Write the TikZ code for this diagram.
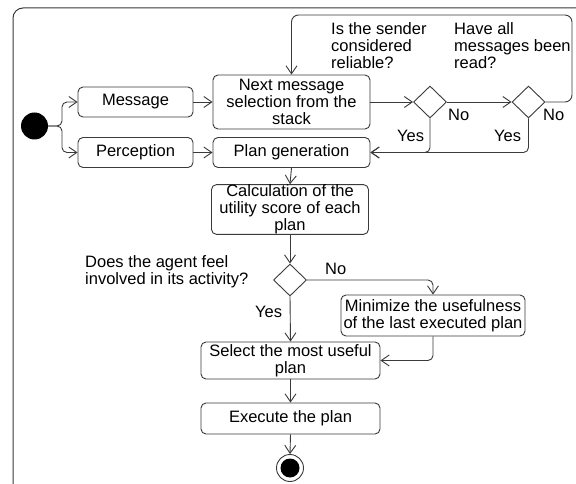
\documentclass[tikz,border=0pt]{standalone}
\usepackage{fontspec}
\setmainfont{Liberation Sans}
\usetikzlibrary{arrows.meta,shapes.geometric}
\definecolor{lc}{HTML}{3A3A3A}
\newcommand{\fs}{\fontsize{16.5}{17.2}\selectfont}
\begin{document}
\begin{tikzpicture}[x=1pt,y=-1pt,
  box/.style={draw=lc, rounded corners=5pt, line width=0.9pt, align=center, inner sep=0pt, font=\fs},
  dec/.style={draw=lc, diamond, minimum width=33pt, minimum height=32pt, inner sep=0pt, line width=0.9pt},
  arr/.style={draw=lc, line width=0.9pt, rounded corners=5pt, -{Straight Barb[length=8pt,width=11pt]}},
  lbl/.style={anchor=base west, inner sep=0pt, font=\fs, align=left},
  mlbl/.style={anchor=north west, inner sep=0pt, font=\fs, align=left}
]
\useasboundingbox (0,0) rectangle (576,484);
\fill[white] (0,0) rectangle (576,484);
% frame
\draw[lc, line width=1pt, rounded corners=10pt] (13,484) -- (13,8) -- (576,8);

% nodes
\node[circle, fill=black, minimum size=27pt, inner sep=0pt] (start) at (34.5,126) {};
\node[box, minimum width=115pt, minimum height=30pt] (msg) at (135.5,102) {Message};
\node[box, minimum width=115pt, minimum height=30pt] (per) at (135.5,152.5) {Perception};
\node[box, minimum width=157pt, minimum height=54pt] (nms) at (291.5,102) {Next message\\selection from the\\stack};
\node[box, minimum width=157pt, minimum height=30pt] (pg) at (291.5,152.5) {Plan generation};
\node[dec] (d1) at (430,102) {};
\node[dec] (d2) at (528.5,102) {};
\node[box, minimum width=157pt, minimum height=48pt] (calc) at (290,209.5) {Calculation of the\\utility score of each\\plan};
\node[dec] (d3) at (290,280) {};
\node[box, minimum width=184pt, minimum height=41pt] (mini) at (433,315.5) {Minimize the usefulness\\of the last executed plan};
\node[box, minimum width=179pt, minimum height=37pt] (sel) at (290.5,360.5) {Select the most useful\\plan};
\node[box, minimum width=179pt, minimum height=31pt] (exe) at (290.5,418.5) {Execute the plan};
\node[circle, draw=lc, line width=0.9pt, minimum size=27pt, inner sep=0pt] (end) at (290,468) {};
\fill[black] (end.center) circle (9.5pt);

% labels
\node[mlbl] (q1) at (331,22) {Is the sender\\considered\\reliable?};
\node[mlbl] (q2) at (454,22) {Have all\\messages been\\read?};
\node[lbl] (no1) at (448,121) {No};
\node[lbl] (no2) at (543,121) {No};
\node[lbl] (yes1) at (397,142) {Yes};
\node[lbl] (yes2) at (494,142) {Yes};
\node[mlbl] (q3) at (85,255) {Does the agent feel\\involved in its activity?};
\node[lbl] (no3) at (325,274) {No};
\node[lbl] (yes3) at (255,317) {Yes};

% connectors
\coordinate (split) at (62,126);
\draw[arr] (start.east) -- (split) |- (msg.west);
\draw[arr] (start.east) -- (split) |- (per.west);
\draw[arr] (msg.east) -- (nms.west);
\draw[arr] (per.east) -- (pg.west);
\draw[arr] (nms.east) -- (d1.west);
\draw[arr] (d1.east) -- (d2.west);
\coordinate (loopr) at (572,15);
\draw[arr, rounded corners=7pt] (d2.east) -| (loopr) -| (nms.north);
\draw[arr] (d1.south) |- (pg.east);
\draw[arr] (d2.south) |- (pg.east);
\draw[arr] (pg.south) -- (calc.north);
\draw[arr] (calc.south) -- (d3.north);
\draw[arr] (d3.east) -| (mini.north);
\draw[arr] (d3.south) -- (sel.north);
\draw[arr] (mini.south) |- (sel.east);
\draw[arr] (sel.south) -- (exe.north);
\draw[arr] (exe.south) -- (end.north);
\end{tikzpicture}
\end{document}
